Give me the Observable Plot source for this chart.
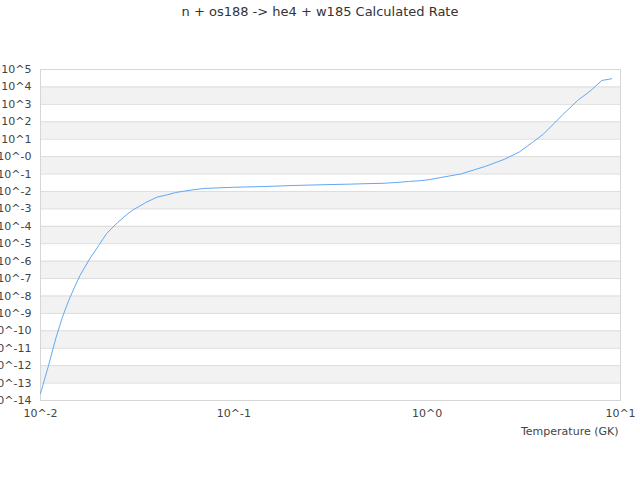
<!DOCTYPE html>
<html>
<head>
<meta charset="utf-8">
<script src="https://cdn.jsdelivr.net/npm/d3@7"></script>
<script src="https://cdn.jsdelivr.net/npm/@observablehq/plot@0.6"></script>
<style>
  body { margin: 0; background: white; font-family: "DejaVu Sans", sans-serif; }
  #titre { height: 24px; line-height: 24px; text-align: center; font-size: 13px; color: #333; }
</style>
</head>
<body>
<div id="titre">n + os188 -> he4 + w185 Calculated Rate</div>
<div id="grafico"></div>
<script>
// temperaturas (GK) y tasa calculada
const temps = [0.01, 0.011, 0.012, 0.013, 0.014, 0.015, 0.016, 0.018, 0.02, 0.022, 0.025,
  0.028, 0.03, 0.035, 0.04, 0.045, 0.05, 0.06, 0.07, 0.08, 0.09, 0.1, 0.15, 0.2,
  0.3, 0.4, 0.5, 0.6, 0.7, 0.8, 0.9, 1, 1.5, 2,
  2.5, 3, 3.5, 4, 4.5, 5, 6, 7, 8, 9];
const rates = [2.5e-14, 1.0e-12, 3.7e-11, 6.3e-10, 5.6e-9, 3.2e-8, 1.5e-7, 1.4e-6, 7.9e-6, 3.9e-5, 1.6e-4,
  4.8e-4, 8.5e-4, 2.3e-3, 4.7e-3, 6.3e-3, 8.7e-3, 1.2e-2, 1.48e-2, 1.58e-2, 1.66e-2, 1.74e-2, 1.95e-2, 2.19e-2,
  2.45e-2, 2.63e-2, 2.82e-2, 2.95e-2, 3.31e-2, 3.72e-2, 4.07e-2, 4.57e-2, 0.102, 0.275,
  0.69, 1.86, 6.46, 20, 74, 240, 1660, 6030, 23400, 29500];

// exponentes de los ticks
const xExps = [-2, -1, 0, 1];
const yExps = d3.range(-14, 6);
// bandas grises (exponente inferior)
const bandExps = [-13, -11, -9, -7, -5, -3, -1, 1, 3];

const data = temps.map((t, i) => ({t: t, r: rates[i]}));

function fmtY(d) {
  const e = Math.round(Math.log10(d));
  return "10^" + (e <= 0 ? "-" + Math.abs(e) : e);
}
function fmtX(d) {
  return "10^" + Math.round(Math.log10(d));
}

let chart = Plot.plot({
  width: 640,
  height: 456,
  marginTop: 45,
  marginBottom: 80,
  marginLeft: 40,
  marginRight: 20,
  style: {
    fontFamily: "DejaVu Sans",
    fontSize: "11px",
    color: "#444",
    background: "white"
  },
  x: {type: "log", domain: [0.01, 10]},
  y: {type: "log", domain: [1e-14, 1e5]},
  marks: [
    Plot.rect(bandExps, {x1: 0.01, x2: 10, y1: d => Math.pow(10, d), y2: d => Math.pow(10, d + 1), fill: "#f2f2f2"}),
    Plot.ruleY(yExps.map(e => Math.pow(10, e)), {stroke: "#dcdcdc"}),
    Plot.frame({stroke: "#d6d6d6"}),
    Plot.axisY(yExps.map(e => Math.pow(10, e)), {tickSize: 0, tickPadding: 9, tickFormat: fmtY, label: null}),
    Plot.axisX(xExps.map(e => Math.pow(10, e)), {tickSize: 0, tickPadding: 9, tickFormat: fmtX, label: null}),
    Plot.line(data, {x: "t", y: "r", stroke: "#62a8f4", strokeWidth: 1}),
    Plot.text(["Temperature (GK)"], {frameAnchor: "bottom-right", textAnchor: "end", dy: 34, dx: -2, fill: "#444"})
  ]
});

d3.select('#grafico').append(() => chart);
</script>
</body>
</html>
